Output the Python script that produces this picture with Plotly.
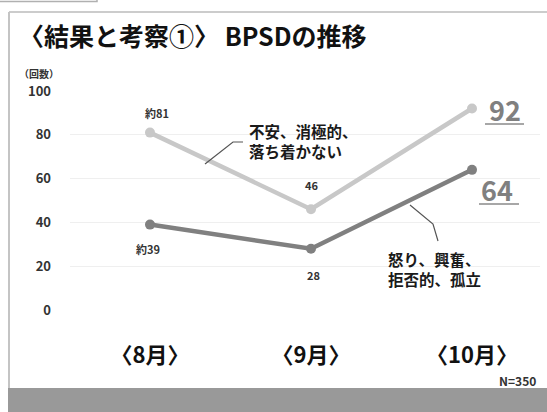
import plotly.graph_objects as go

months = ["〈8月〉", "〈9月〉", "〈10月〉"]
anxiety = [81, 46, 92]          # 不安、消極的、落ち着かない
anger = [39, 28, 64]            # 怒り、興奮、拒否的、孤立
anxiety_labels = ["約81", "46", "92"]
anger_labels = ["約39", "28", "64"]
anxiety_name = ["不安、消極的、", "落ち着かない"]
anger_name = ["怒り、興奮、", "拒否的、孤立"]
y_ticks = [0, 20, 40, 60, 80, 100]

W, H = 547, 412
FONT = "Noto Sans CJK JP"
LIGHT = "#c8c8c8"
DARK = "#808080"


def px(x):
    return x / W


def py(y):
    return 1 - y / H


fig = go.Figure()
xs = [0, 1, 2]
fig.add_trace(go.Scatter(x=xs, y=anxiety, mode="lines+markers",
                         line=dict(color=LIGHT, width=4.5),
                         marker=dict(size=10, color=LIGHT),
                         hoverinfo="skip", showlegend=False))
fig.add_trace(go.Scatter(x=xs, y=anger, mode="lines+markers",
                         line=dict(color=DARK, width=4.5),
                         marker=dict(size=10, color=DARK),
                         hoverinfo="skip", showlegend=False))

annotations = []
small = [
    (0, anxiety[0], anxiety_labels[0], 7, 20),
    (1, anxiety[1], anxiety_labels[1], 0, 24),
    (0, anger[0], anger_labels[0], -2, -24),
    (1, anger[1], anger_labels[1], 2, -26),
]
for x, y, t, dx, dy in small:
    annotations.append(dict(x=x, y=y, xref="x", yref="y", text=f"<b>{t}</b>",
                            showarrow=False, xshift=dx, yshift=dy,
                            font=dict(family=FONT, size=11, color="#333333")))
annotations.append(dict(x=2, y=anxiety[2], xref="x", yref="y",
                        text=f"<b>{anxiety_labels[2]}</b>", showarrow=False,
                        xshift=33, yshift=-1,
                        font=dict(family=FONT, size=27, color="#808080")))
annotations.append(dict(x=2, y=anger[2], xref="x", yref="y",
                        text=f"<b>{anger_labels[2]}</b>", showarrow=False,
                        xshift=25, yshift=-20,
                        font=dict(family=FONT, size=27, color="#808080")))
annotations.append(dict(x=px(247), y=py(141), xref="paper", yref="paper",
                        xanchor="left", yanchor="middle", align="left",
                        text="<b>" + "<br>".join(anxiety_name) + "</b>",
                        showarrow=False,
                        font=dict(family=FONT, size=15.5, color="#1a1a1a")))
annotations.append(dict(x=px(386), y=py(269), xref="paper", yref="paper",
                        xanchor="left", yanchor="middle", align="left",
                        text="<b>" + "<br>".join(anger_name) + "</b>",
                        showarrow=False,
                        font=dict(family=FONT, size=15.5, color="#1a1a1a")))
annotations.append(dict(x=px(17), y=py(35), xref="paper", yref="paper",
                        xanchor="left", yanchor="middle",
                        text="<b>〈結果と考察①〉 BPSDの推移</b>", showarrow=False,
                        font=dict(family=FONT, size=25, color="#111111")))
annotations.append(dict(x=px(17), y=py(73), xref="paper", yref="paper",
                        xanchor="left", yanchor="middle",
                        text="<b>（回数）</b>", showarrow=False,
                        font=dict(family=FONT, size=10, color="#333333")))
annotations.append(dict(x=px(538), y=py(380), xref="paper", yref="paper",
                        xanchor="right", yanchor="middle",
                        text="<b>N=350</b>", showarrow=False,
                        font=dict(family=FONT, size=12, color="#333333")))

shapes = [
    dict(type="rect", xref="paper", yref="paper", x0=px(-3), x1=px(97),
         y0=py(1.5), y1=py(-4), line=dict(color="#b0b0b0", width=1.5)),
    dict(type="line", xref="paper", yref="paper", x0=px(9), x1=px(550),
         y0=py(12), y1=py(12), line=dict(color="#cccccc", width=2)),
    dict(type="line", xref="paper", yref="paper", x0=px(9), x1=px(9),
         y0=py(12), y1=py(390), line=dict(color="#c4c4c4", width=2)),
    dict(type="rect", xref="paper", yref="paper", x0=px(8), x1=px(550),
         y0=py(388), y1=py(415), fillcolor="#999999", line=dict(width=0)),
    dict(type="line", xref="paper", yref="paper", x0=px(485), x1=px(524),
         y0=py(124), y1=py(124), line=dict(color="#8a8a8a", width=1.5)),
    dict(type="line", xref="paper", yref="paper", x0=px(479), x1=px(519),
         y0=py(204), y1=py(204), line=dict(color="#8a8a8a", width=1.5)),
    dict(type="path", xref="paper", yref="paper",
         path=f"M {px(205)} {py(164)} L {px(233)} {py(142)} L {px(243)} {py(142)}",
         line=dict(color="#555555", width=1.2)),
    dict(type="path", xref="paper", yref="paper",
         path=f"M {px(410)} {py(205)} L {px(433)} {py(224)} L {px(438)} {py(241)}",
         line=dict(color="#555555", width=1.2)),
]

x0p, x1p = 70, 540
scale = 161.0
r0 = -(150 - x0p) / scale
r1 = r0 + (x1p - x0p) / scale

fig.update_layout(
    template="none",
    width=W, height=H, autosize=False,
    margin=dict(l=0, r=0, t=0, b=0, pad=0, autoexpand=False),
    paper_bgcolor="white", plot_bgcolor="white",
    annotations=annotations, shapes=shapes,
    xaxis=dict(domain=[px(x0p), px(x1p)], range=[r0, r1], automargin=False,
               tickmode="array", tickvals=xs,
               ticktext=[f"<b>{m}</b>" for m in months],
               tickfont=dict(family=FONT, size=22, color="#111111"),
               showgrid=False, zeroline=False, showline=False, ticks="",
               ticklabelstandoff=30),
    yaxis=dict(domain=[py(310), py(91)], range=[0, 100], automargin=False,
               tickmode="array", tickvals=y_ticks,
               ticktext=[f"<b>{v}</b>" for v in y_ticks],
               tickfont=dict(family=FONT, size=13, color="#333333"),
               showgrid=True, gridcolor="#efefef", gridwidth=1,
               zeroline=False, showline=False, ticks="",
               ticklabelstandoff=18),
)

fig.write_html("out.html", config={"displayModeBar": False},
               post_script="document.body.style.margin='0';document.body.style.overflow='hidden';")
